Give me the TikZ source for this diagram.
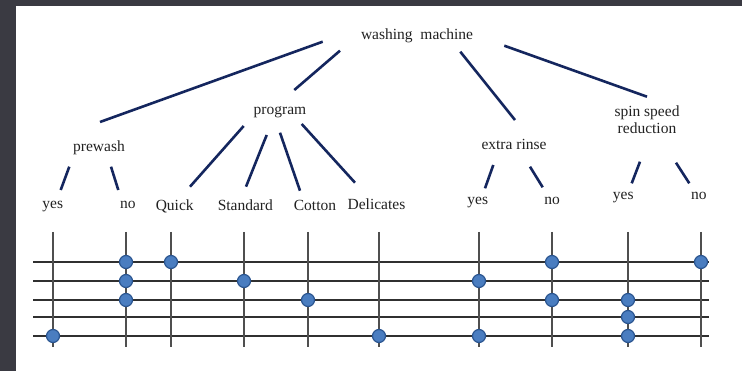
\documentclass[tikz,border=0pt]{standalone}
\usepackage{fontspec}
\setmainfont{Liberation Serif}
\definecolor{bgdark}{HTML}{3A3A42}
\definecolor{navy}{HTML}{14265E}
\definecolor{dotfill}{HTML}{4A7DC0}
\definecolor{dotedge}{HTML}{2B5590}
\definecolor{gridc}{HTML}{303030}
\definecolor{txt}{HTML}{222222}
\begin{document}
\begin{tikzpicture}[x=1pt,y=-1pt,
  lbl/.style={font=\fontsize{15.5}{16.6}\selectfont, text=txt, inner sep=0pt, anchor=base},
  edge/.style={navy, line width=2.6pt},
  gridline/.style={gridc, line width=1.1pt},
  dot/.style={circle, fill=dotfill, draw=dotedge, line width=1.2pt, minimum size=13pt, inner sep=0pt}]
% background
\fill[bgdark] (0,0) rectangle (742,371);
\fill[white] (16,6) rectangle (742,371);
\useasboundingbox (0,0) rectangle (742,371);

% labels
\node[lbl] (root) at (417,39.3) {washing\ \ machine};
\node[lbl] (program) at (280,115) {program};
\node[lbl] (prewash) at (99,151.7) {prewash};
\node[lbl] (extra) at (514,149.3) {extra rinse};
\node[lbl, anchor=center, align=center] (spin) at (647,119.7) {spin speed\\reduction};
\node[lbl] (pyes) at (52.8,209) {yes};
\node[lbl] (pno) at (127.8,209) {no};
\node[lbl] (quick) at (174.7,210.7) {Quick};
\node[lbl] (standard) at (245.3,210.7) {Standard};
\node[lbl] (cotton) at (315,210.7) {Cotton};
\node[lbl] (delicates) at (376.5,210) {Delicates};
\node[lbl] (eyes) at (477.8,204.3) {yes};
\node[lbl] (eno) at (552.2,204.3) {no};
\node[lbl] (syes) at (623.3,200) {yes};
\node[lbl] (sno) at (698.8,200) {no};

% tree connector ends
\coordinate (rootA) at (322.7,41.7);  \coordinate (prewashT) at (100,122);
\coordinate (rootB) at (340,50.7);    \coordinate (programT) at (294.3,90);
\coordinate (rootC) at (460.3,51.7);  \coordinate (extraT) at (515,120);
\coordinate (rootD) at (504.3,45.7);  \coordinate (spinT) at (647,96.7);
\coordinate (prewashA) at (69.3,166.7); \coordinate (pyesT) at (60.7,190);
\coordinate (prewashB) at (111,166.7);  \coordinate (pnoT) at (118.3,190);
\coordinate (programA) at (243.7,126);  \coordinate (quickT) at (190,186.7);
\coordinate (programB) at (266.7,135);  \coordinate (standardT) at (246,186.7);
\coordinate (programC) at (280,132.7);  \coordinate (cottonT) at (300,190.7);
\coordinate (programD) at (301.7,124);  \coordinate (delicatesT) at (355,182.7);
\coordinate (extraA) at (493.3,165);    \coordinate (eyesT) at (485,188.3);
\coordinate (extraB) at (530,166.7);    \coordinate (enoT) at (542.7,187.3);
\coordinate (spinA) at (640,161.7);     \coordinate (syesT) at (631.7,183.3);
\coordinate (spinB) at (676,162.7);     \coordinate (snoT) at (689.3,183.3);

\draw[edge] (rootA) -- (prewashT);
\draw[edge] (rootB) -- (programT);
\draw[edge] (rootC) -- (extraT);
\draw[edge] (rootD) -- (spinT);
\draw[edge] (prewashA) -- (pyesT);
\draw[edge] (prewashB) -- (pnoT);
\draw[edge] (programA) -- (quickT);
\draw[edge] (programB) -- (standardT);
\draw[edge] (programC) -- (cottonT);
\draw[edge] (programD) -- (delicatesT);
\draw[edge] (extraA) -- (eyesT);
\draw[edge] (extraB) -- (enoT);
\draw[edge] (spinA) -- (syesT);
\draw[edge] (spinB) -- (snoT);

% grid
\foreach \yy in {262,281,300,317,336}
  \draw[gridline] (33,\yy) -- (709,\yy);
\foreach \xx in {53,126,171,244,308,379,479,552,628,701}
  \draw[gridline, gridc!85] (\xx,232) -- (\xx,347);

% dots
\node[dot] (d1) at (53,336) {};
\node[dot] (d2) at (126,262) {};
\node[dot] (d3) at (126,281) {};
\node[dot] (d4) at (126,300) {};
\node[dot] (d5) at (171,262) {};
\node[dot] (d6) at (244,281) {};
\node[dot] (d7) at (308,300) {};
\node[dot] (d8) at (379,336) {};
\node[dot] (d9) at (479,281) {};
\node[dot] (d10) at (479,336) {};
\node[dot] (d11) at (552,262) {};
\node[dot] (d12) at (552,300) {};
\node[dot] (d13) at (628,300) {};
\node[dot] (d14) at (628,317) {};
\node[dot] (d15) at (628,336) {};
\node[dot] (d16) at (701,262) {};
\end{tikzpicture}
\end{document}
